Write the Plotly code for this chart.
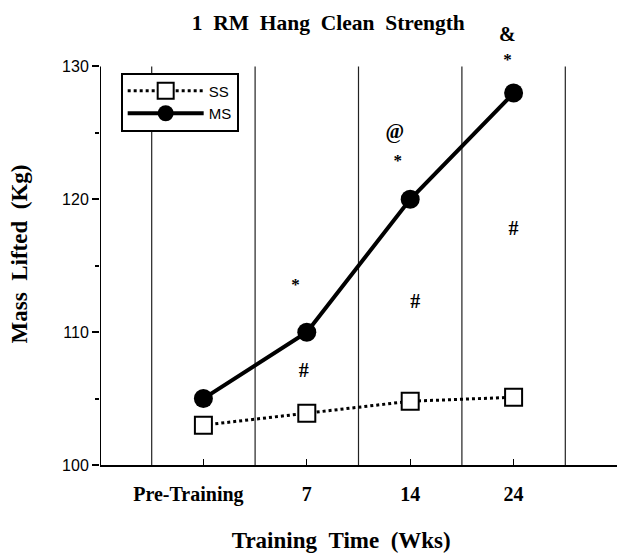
import plotly.graph_objects as go

categories = ["Pre-Training", "7", "14", "24"]
ss_values = [103.0, 103.9, 104.8, 105.1]
ms_values = [105.0, 110.0, 120.0, 128.0]
y_ticks = [100, 110, 120, 130]
y_min, y_max = 100, 130
divider_positions = [0.5, 1.5, 2.5, 3.5, 4.5]
# significance markers: (symbol, x position, y value)
marker_texts = ["*", "#", "@", "*", "#", "&", "*", "#"]
marker_x = [1.89, 1.97, 2.85, 2.88, 3.05, 3.94, 3.94, 4.0]
marker_y = [113.5, 107.0, 125.0, 122.8, 112.2, 132.3, 130.4, 117.7]

xpos = [i + 1 for i in range(len(categories))]

SERIF = "Liberation Serif"
SANS = "Liberation Sans"
NB = "\u00a0"

fig = go.Figure()

fig.add_trace(go.Scatter(
    x=xpos, y=ss_values, name="SS", mode="lines+markers",
    line=dict(color="black", width=3, dash="dot"),
    marker=dict(symbol="square", size=17, color="white",
                line=dict(color="black", width=2)),
))
fig.add_trace(go.Scatter(
    x=xpos, y=ms_values, name="MS", mode="lines+markers",
    line=dict(color="black", width=4),
    marker=dict(symbol="circle", size=19, color="black"),
))

fig.add_trace(go.Scatter(
    x=marker_x, y=marker_y, mode="text", showlegend=False, cliponaxis=False,
    text=["<b>" + t + "</b>" for t in marker_texts],
    textposition="middle center",
    textfont=dict(family=SERIF, color="black",
                  size=[17 if t == "*" else 20 for t in marker_texts]),
    hoverinfo="skip",
))

for xv in divider_positions:
    fig.add_shape(type="line", x0=xv, x1=xv, y0=y_min, y1=y_max,
                  xref="x", yref="y", line=dict(color="#222", width=1.2),
                  layer="below")
# y axis line (stops at the top tick)
fig.add_shape(type="line", x0=0, x1=0, y0=y_min, y1=y_max,
              xref="x", yref="y", line=dict(color="black", width=2))

ticktext = ["<b>" + c + "</b>" for c in categories]
ticktext[0] = "<b>" + categories[0] + NB * 6 + "</b>"

fig.update_layout(
    width=617, height=553,
    margin=dict(l=100, r=0, t=19.5, b=88),
    paper_bgcolor="white", plot_bgcolor="white",
    title=dict(text="<b>" + (NB * 2).join("1 RM Hang Clean Strength".split(" ")) + "</b>",
               x=0.532, xanchor="center",
               y=1 - 22 / 553, yanchor="middle", yref="container",
               font=dict(family=SERIF, size=21.5, color="black")),
    showlegend=True,
    legend=dict(x=0.04, y=0.882, xanchor="left", yanchor="top",
                bgcolor="white", bordercolor="black", borderwidth=2,
                font=dict(family=SANS, size=15, color="black"),
                itemwidth=76),
    xaxis=dict(range=[0, 5], tickvals=xpos,
               ticktext=ticktext,
               tickfont=dict(family=SERIF, size=20, color="black"),
               ticks="inside", ticklen=6, tickcolor="black",
               showline=True, linecolor="black", linewidth=2,
               showgrid=False, zeroline=False, ticklabelstandoff=10,
               title=dict(text="<b>" + (NB * 2).join("Training Time (Wks)".split(" ")) + NB * 6 + "</b>",
                          standoff=29,
                          font=dict(family=SERIF, size=23, color="black"))),
    yaxis=dict(range=[y_min, 133.5], tickvals=y_ticks,
               tickfont=dict(family=SANS, size=16, color="black"),
               ticks="outside", ticklen=7, tickcolor="black", tickwidth=1.5,
               minor=dict(tickvals=[105, 115, 125], ticks="outside", ticklen=4,
                          tickcolor="black"),
               showline=False,
               showgrid=False, zeroline=False,
               title=dict(text="<b>" + (NB * 2).join("Mass Lifted (Kg)".split(" ")) + NB * 4 + "</b>",
                          standoff=28,
                          font=dict(family=SERIF, size=23, color="black"))),
)

fig.write_html("out.html", config={"displayModeBar": False},
               post_script="document.body.style.margin='0';document.body.style.overflow='hidden';")
